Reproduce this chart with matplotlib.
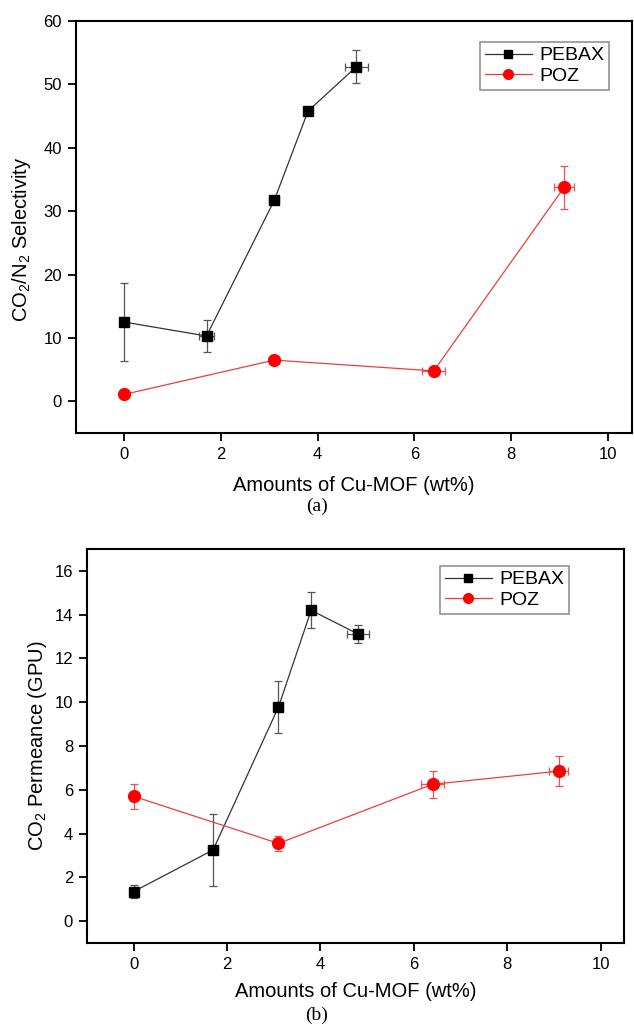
import matplotlib
matplotlib.use("Agg")
import matplotlib.pyplot as plt
from matplotlib.lines import Line2D

plt.rcParams['font.family'] = ['Liberation Sans', 'DejaVu Sans']
plt.rcParams['mathtext.default'] = 'regular'

# wt% of Cu-MOF
pebax_x = [0, 1.7, 3.1, 3.8, 4.8]
poz_x = [0, 3.1, 6.4, 9.1]

# (a) selectivity
pebax_sel = [12.5, 10.3, 31.7, 45.8, 52.8]
pebax_sel_err = [6.2, 2.45, 0.3, 0, 2.6]
pebax_sel_xerr = [0, 0.15, 0.1, 0, 0.24]
poz_sel = [1.1, 6.5, 4.8, 33.8]
poz_sel_err = [0, 0.3, 0, 3.4]
poz_sel_xerr = [0, 0.1, 0.24, 0.21]

# (b) permeance
pebax_perm = [1.35, 3.25, 9.78, 14.2, 13.12]
pebax_perm_err = [0.3, 1.63, 1.18, 0.83, 0.42]
pebax_perm_xerr = [0, 0.1, 0.1, 0, 0.23]
poz_perm = [5.7, 3.55, 6.25, 6.85]
poz_perm_err = [0.57, 0.35, 0.62, 0.68]
poz_perm_xerr = [0, 0.1, 0.25, 0.2]

fig = plt.figure(figsize=(6.34, 10.27), dpi=100)
ax1 = fig.add_axes([76 / 634, 1 - 433 / 1027, 556 / 634, 412 / 1027])
ax2 = fig.add_axes([87 / 634, 1 - 943 / 1027, 537 / 634, 394 / 1027])


def draw(ax, y1, e1, xe1, y2, e2, xe2, leg_pos):
    ax.errorbar(pebax_x, y1, yerr=e1, xerr=xe1, color='#333333', lw=0.9,
                marker='s', ms=7.5, mfc='black', mec='black',
                ecolor='#555555', elinewidth=0.9, capsize=3, capthick=0.9,
                zorder=3)
    ax.errorbar(poz_x, y2, yerr=e2, xerr=xe2, color='#f03c3c', lw=0.9,
                marker='o', ms=8.5, mfc='red', mec='red',
                ecolor='#f05050', elinewidth=0.9, capsize=3, capthick=0.9,
                zorder=3)
    for s in ax.spines.values():
        s.set_linewidth(1.5)
    ax.tick_params(direction='out', length=6, width=1.3, labelsize=12,
                   top=False, right=False, pad=4)
    ax.set_xlim(-1, 10.5)
    ax.set_xticks([0, 2, 4, 6, 8, 10])
    ax.set_xlabel('Amounts of Cu-MOF (wt%)', fontsize=14.5)
    handles = [Line2D([], [], color='#333333', lw=0.9, marker='s', ms=6,
                      mfc='black', mec='black'),
               Line2D([], [], color='#f03c3c', lw=0.9, marker='o', ms=7,
                      mfc='red', mec='red')]
    leg = ax.legend(handles, ['PEBAX', 'POZ'], loc='upper right',
                    bbox_to_anchor=leg_pos, fontsize=14, frameon=True,
                    fancybox=False, edgecolor='#777777', borderaxespad=0,
                    handlelength=2.4, handletextpad=0.4, labelspacing=0.15,
                    borderpad=0.25)
    leg.get_frame().set_linewidth(1.2)


draw(ax1, pebax_sel, pebax_sel_err, pebax_sel_xerr, poz_sel, poz_sel_err, poz_sel_xerr,
     (0.959, 0.949))
ax1.set_ylim(-5, 60)
ax1.set_yticks([0, 10, 20, 30, 40, 50, 60])
ax1.set_ylabel('CO$_2$/N$_2$ Selectivity', fontsize=14.5)
ax1.yaxis.set_label_coords(-0.078, 0.47)
ax1.xaxis.set_label_coords(0.5, -0.105)

draw(ax2, pebax_perm, pebax_perm_err, pebax_perm_xerr, poz_perm, poz_perm_err, poz_perm_xerr,
     (0.898, 0.957))
ax2.set_ylim(-1, 17)
ax2.set_yticks([0, 2, 4, 6, 8, 10, 12, 14, 16])
ax2.set_ylabel('CO$_2$ Permeance (GPU)', fontsize=14.5)
ax2.yaxis.set_label_coords(-0.07, 0.5)
ax2.xaxis.set_label_coords(0.5, -0.1)

fig.text(0.5, 1 - 506 / 1027, '(a)', ha='center', va='center', fontsize=14,
         family='Liberation Serif')
fig.text(0.5, 1 - 1015 / 1027, '(b)', ha='center', va='center', fontsize=14,
         family='Liberation Serif')

fig.savefig('out.png', dpi=100)
